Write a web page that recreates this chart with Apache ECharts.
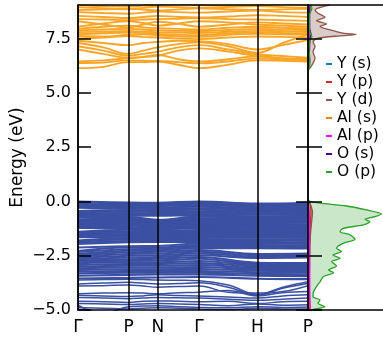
<!DOCTYPE html>
<html>
<head>
<meta charset="utf-8">
<script src="https://cdn.jsdelivr.net/npm/echarts@6/dist/echarts.min.js"></script>
<style>
  html, body { margin: 0; padding: 0; background: #fff; }
  #chart { width: 383px; height: 339px; }
</style>
</head>
<body>
<div id="chart"></div>
<script>
// k-path (BCC): Γ - P - N - Γ - H - P
const kTicks = [0, 0.866, 1.366, 2.073, 3.073, 3.939];
const kLabels = ['Γ', 'P', 'N', 'Γ', 'H', 'P'];
// high-symmetry points plus segment midpoints
const kFine = [0, 0.433, 0.866, 1.116, 1.366, 1.72, 2.073, 2.573, 3.073, 3.506, 3.939];
const energyTicks = [-5, -2.5, 0, 2.5, 5, 7.5];

// conduction bands, read at kFine
const conductionBands = [
  [6.14, 6.20, 6.42, 6.42, 6.45, 6.30, 6.14, 6.30, 6.50, 6.48, 6.45],
  [6.38, 6.40, 6.50, 6.48, 6.47, 6.42, 6.36, 6.45, 6.58, 6.53, 6.50],
  [6.45, 6.50, 6.60, 6.66, 6.75, 6.55, 6.45, 6.55, 6.68, 6.58, 6.55],
  [7.00, 6.80, 6.62, 6.65, 6.72, 6.95, 7.05, 6.90, 6.70, 6.60, 6.55],
  [7.15, 6.95, 6.72, 6.80, 6.90, 7.10, 7.20, 7.00, 6.78, 6.70, 6.62],
  [7.30, 7.10, 6.80, 6.95, 7.10, 7.25, 7.33, 7.15, 6.85, 7.30, 7.70],
  [7.40, 7.30, 7.20, 7.30, 7.35, 7.40, 7.38, 7.25, 7.00, 7.20, 7.45],
  [7.50, 7.55, 7.62, 7.58, 7.55, 7.50, 7.48, 7.55, 7.60, 7.58, 7.55],
  [7.62, 7.60, 7.68, 7.70, 7.65, 7.60, 7.58, 7.68, 7.72, 7.70, 7.68],
  [7.70, 7.75, 7.78, 7.75, 7.72, 7.68, 7.66, 7.75, 7.78, 7.76, 7.75],
  [7.80, 7.82, 7.85, 7.82, 7.80, 7.78, 7.76, 7.82, 7.86, 7.84, 7.82],
  [7.88, 7.92, 7.95, 7.92, 7.88, 7.86, 7.85, 7.90, 7.95, 7.92, 7.90],
  [7.95, 8.05, 8.10, 8.02, 7.98, 7.95, 7.92, 8.00, 8.05, 8.00, 7.98],
  [8.30, 8.15, 8.02, 8.15, 8.28, 8.18, 8.05, 8.15, 8.25, 8.20, 8.15],
  [8.05, 8.20, 8.30, 8.22, 8.10, 8.20, 8.30, 8.25, 8.15, 8.10, 8.05],
  [8.40, 8.38, 8.35, 8.38, 8.40, 8.42, 8.45, 8.40, 8.38, 8.35, 8.32],
  [8.55, 8.50, 8.45, 8.50, 8.55, 8.50, 8.48, 8.52, 8.58, 8.55, 8.50],
  [8.72, 8.68, 8.65, 8.70, 8.75, 8.72, 8.70, 8.75, 8.80, 8.72, 8.70],
  [8.82, 8.85, 8.88, 8.84, 8.80, 8.85, 8.90, 8.85, 8.82, 8.85, 8.88],
  [8.95, 8.90, 8.85, 8.92, 8.98, 8.95, 8.92, 8.96, 9.00, 8.95, 8.92],
  [9.05, 9.00, 8.98, 9.02, 9.08, 9.10, 9.05, 9.02, 9.05, 9.10, 9.05]
];

// dense valence bands, read at kTicks
const valenceBands = [
  [0.00, -0.05, -0.06, 0.00, -0.10, -0.06],
  [-0.05, -0.10, -0.12, -0.04, -0.14, -0.12],
  [-0.11, -0.16, -0.15, -0.10, -0.20, -0.18],
  [-0.17, -0.22, -0.21, -0.16, -0.25, -0.24],
  [-0.23, -0.27, -0.28, -0.24, -0.31, -0.30],
  [-0.29, -0.33, -0.35, -0.31, -0.37, -0.36],
  [-0.44, -0.40, -0.42, -0.38, -0.43, -0.42],
  [-0.50, -0.46, -0.49, -0.45, -0.49, -0.48],
  [-0.55, -0.53, -0.55, -0.52, -0.55, -0.54],
  [-0.60, -0.59, -0.61, -0.58, -0.61, -0.60],
  [-0.66, -0.66, -0.66, -0.64, -0.68, -0.66],
  [-0.72, -0.72, -0.84, -0.70, -0.74, -0.72],
  [-0.82, -0.80, -0.89, -0.78, -0.80, -0.79],
  [-0.88, -0.87, -0.94, -0.85, -0.86, -0.86],
  [-0.94, -0.93, -0.99, -0.92, -0.92, -0.92],
  [-1.00, -0.99, -1.04, -0.98, -0.98, -0.98],
  [-1.06, -1.05, -1.10, -1.04, -1.04, -1.05],
  [-1.12, -1.11, -1.16, -1.10, -1.10, -1.11],
  [-1.18, -1.18, -1.22, -1.16, -1.17, -1.18],
  [-1.22, -1.24, -1.28, -1.22, -1.24, -1.25],
  [-1.40, -1.30, -1.34, -1.32, -1.30, -1.31],
  [-1.45, -1.37, -1.40, -1.38, -1.36, -1.37],
  [-1.50, -1.44, -1.46, -1.44, -1.42, -1.43],
  [-1.55, -1.50, -1.52, -1.50, -1.48, -1.49],
  [-1.60, -1.56, -1.58, -1.56, -1.54, -1.55],
  [-1.65, -1.62, -1.64, -1.62, -1.60, -1.61],
  [-1.80, -1.68, -1.70, -1.68, -1.67, -1.68],
  [-1.85, -1.75, -1.76, -1.74, -1.74, -1.75],
  [-1.90, -1.82, -1.80, -1.80, -1.80, -1.82],
  [-1.96, -1.88, -1.86, -1.86, -1.87, -1.89],
  [-2.12, -2.06, -2.05, -1.94, -1.94, -1.96],
  [-2.28, -2.12, -2.12, -2.01, -2.01, -2.03],
  [-2.33, -2.20, -2.18, -2.08, -2.08, -2.10],
  [-2.42, -2.27, -2.25, -2.15, -2.15, -2.17],
  [-2.48, -2.34, -2.32, -2.24, -2.42, -2.40],
  [-2.54, -2.42, -2.40, -2.32, -2.48, -2.46],
  [-2.60, -2.50, -2.48, -2.40, -2.54, -2.52],
  [-2.66, -2.58, -2.56, -2.48, -2.60, -2.58],
  [-2.72, -2.66, -2.64, -2.56, -2.82, -2.84],
  [-2.78, -2.73, -2.72, -2.64, -2.88, -2.90],
  [-2.85, -2.80, -2.80, -2.74, -2.94, -2.96],
  [-2.92, -2.88, -2.88, -2.84, -3.00, -3.02],
  [-3.00, -2.96, -2.96, -2.93, -3.06, -3.07],
  [-3.08, -3.04, -3.04, -3.02, -3.12, -3.13],
  [-3.16, -3.12, -3.12, -3.11, -3.19, -3.20],
  [-3.24, -3.20, -3.20, -3.20, -3.26, -3.27],
  [-3.32, -3.28, -3.28, -3.28, -3.34, -3.35],
  [-3.42, -3.38, -3.36, -3.36, -3.42, -3.44],
  [-3.55, -3.52, -3.50, -3.48, -3.56, -3.58]
];

// lower valence bands, read at kFine
const lowerBands = [
  [-3.62, -3.60, -3.58, -3.60, -3.62, -3.63, -3.65, -3.85, -4.28, -3.95, -3.70],
  [-3.80, -3.76, -3.72, -3.76, -3.80, -3.78, -3.75, -3.95, -4.32, -4.00, -3.78],
  [-3.90, -3.88, -3.85, -3.90, -3.95, -3.92, -3.90, -4.18, -4.22, -4.15, -3.88],
  [-4.25, -4.22, -4.20, -4.22, -4.25, -4.20, -4.18, -4.10, -4.35, -4.20, -4.15],
  [-4.32, -4.35, -4.38, -4.35, -4.30, -4.33, -4.35, -4.40, -4.45, -4.35, -4.30],
  [-4.42, -4.45, -4.48, -4.45, -4.42, -4.44, -4.45, -4.50, -4.55, -4.50, -4.45],
  [-4.60, -4.62, -4.65, -4.60, -4.58, -4.60, -4.62, -4.60, -4.70, -4.62, -4.60],
  [-4.70, -4.72, -4.75, -4.72, -4.70, -4.72, -4.75, -4.80, -4.72, -4.78, -4.76],
  [-4.78, -5.15, -4.85, -4.82, -4.80, -4.85, -4.88, -4.90, -4.85, -4.88, -4.86],
  [-4.90, -4.92, -4.95, -4.92, -4.90, -4.92, -4.95, -4.98, -4.92, -4.95, -4.95]
];

// projected DOS
const dosNames = ['Y (s)', 'Y (p)', 'Y (d)', 'Al (s)', 'Al (p)', 'O (s)', 'O (p)'];
const dosColors = ['#1f77b4', '#d62728', '#8c564b', '#ff7f0e', '#ff00ff', '#4b0082', '#2ca02c'];

const opE = [9.05, 8.9, 8.6, 8.0, 7.7, 7.6, 7.5, 7.0, 6.5, 6.2, 6.0, 0.1, 0.0, -0.08, -0.21, -0.39, -0.58, -0.70, -0.82, -0.93, -1.08, -1.24, -1.39, -1.54, -1.74, -1.93, -2.16, -2.31, -2.47, -2.62, -2.77, -2.97, -3.16, -3.28, -3.46, -3.70, -3.92, -4.16, -4.39, -4.54, -4.69, -4.85, -4.97, -5.05];
const opDos = [0.5, 0.8, 0.3, 0.3, 0.5, 0.8, 0.5, 0.2, 0.4, 0.3, 0, 0, 0.4, 2.4, 7.7, 11.7, 14.7, 13.4, 11.4, 12.4, 11.1, 7.0, 6.4, 8.4, 9.4, 7.0, 5.7, 6.7, 5.0, 6.4, 4.7, 5.7, 4.1, 5.1, 3.1, 2.4, 1.7, 1.1, 1.0, 2.4, 2.0, 3.4, 1.0, 0.5];

const ydE = [9.05, 8.98, 8.82, 8.67, 8.49, 8.33, 8.18, 8.06, 7.90, 7.75, 7.69, 7.63, 7.52, 7.36, 7.13, 6.90, 6.60, 6.37, 6.14, 6.06, 0.1, 0.0, -0.2, -0.5, -1.0, -1.5, -2.0, -3.0, -4.0, -5.05];
const ydDos = [4.4, 3.0, 1.4, 2.0, 3.4, 1.7, 3.7, 2.4, 4.4, 7.0, 9.6, 6.4, 2.0, 1.0, 1.4, 1.0, 1.4, 1.0, 0.4, 0, 0, 0.2, 0.6, 0.9, 0.7, 0.5, 0.4, 0.3, 0.2, 0.2];

const minorE = [-5.05, -4.8, -4.5, -4.0, -3.0, -2.0, -1.0, -0.5, -0.1, 0.1, 6.0, 6.5, 7.0, 7.5, 7.7, 8.0, 8.5, 9.05];
const ysDos = [0.1, 0.1, 0.1, 0.1, 0.1, 0.1, 0.15, 0.1, 0.05, 0, 0, 0.1, 0.1, 0.15, 0.2, 0.1, 0.1, 0.1];
const ypDos = [0.15, 0.15, 0.2, 0.2, 0.2, 0.3, 0.5, 0.6, 0.4, 0, 0, 0.2, 0.2, 0.3, 0.4, 0.2, 0.2, 0.2];
const alsDos = [0.5, 0.3, 0.2, 0.15, 0.1, 0.1, 0.1, 0.1, 0.05, 0, 0, 0.15, 0.1, 0.1, 0.15, 0.1, 0.1, 0.1];
const alpDos = [0.4, 0.45, 0.4, 0.35, 0.35, 0.3, 0.3, 0.25, 0.1, 0, 0, 0.2, 0.25, 0.3, 0.4, 0.3, 0.3, 0.3];
const osDos = [0.1, 0.1, 0.1, 0.1, 0.05, 0.05, 0.05, 0.05, 0, 0, 0, 0.2, 0.3, 0.4, 0.6, 0.3, 0.3, 0.4];

const FONT = 'DejaVu Sans';
const E_MIN = -5, E_MAX = 9.05;
const K_MAX = kTicks[kTicks.length - 1];

const chart = echarts.init(document.getElementById('chart'), null, { renderer: 'canvas' });
const series = [];

function addBand(ks, es, color, width) {
  series.push({
    type: 'line', xAxisIndex: 0, yAxisIndex: 0,
    data: ks.map((k, i) => [k, es[i]]),
    showSymbol: false, smooth: 0.4, silent: true, z: 2,
    lineStyle: { color: color, width: width }
  });
}
conductionBands.forEach(b => addBand(kFine, b, '#f9a628', 1.9));
valenceBands.forEach(b => addBand(kTicks, b, '#3b50a2', 2.1));
lowerBands.forEach(b => addBand(kFine, b, '#3b50a2', 1.5));

// vertical lines at high-symmetry points
series.push({
  type: 'line', xAxisIndex: 0, yAxisIndex: 0, data: [], silent: true,
  markLine: {
    silent: true, symbol: ['none', 'none'], animation: false, z: 10,
    label: { show: false },
    lineStyle: { color: '#000', width: 1.5, type: 'solid' },
    data: kTicks.map(k => ({ xAxis: k }))
  }
});

function fillSeries(name, es, vals, color) {
  return {
    type: 'custom', name: name, xAxisIndex: 2, yAxisIndex: 2, silent: true, z: 1,
    data: [0],
    renderItem: function (params, api) {
      const pts = [api.coord([0, es[0]])];
      for (let i = 0; i < es.length; i++) pts.push(api.coord([vals[i], es[i]]));
      pts.push(api.coord([0, es[es.length - 1]]));
      return { type: 'polygon', shape: { points: pts }, style: { fill: color } };
    }
  };
}
series.push(fillSeries('Y (d) fill', ydE, ydDos, 'rgba(140,86,75,0.3)'));
series.push(fillSeries('O (p) fill', opE, opDos, 'rgba(44,160,44,0.25)'));

const dosData = [
  [minorE, ysDos], [minorE, ypDos], [ydE, ydDos], [minorE, alsDos],
  [minorE, alpDos], [minorE, osDos], [opE, opDos]
];
dosNames.forEach((name, j) => {
  const es = dosData[j][0], vals = dosData[j][1];
  series.push({
    type: 'line', name: name, xAxisIndex: 2, yAxisIndex: 2,
    data: es.map((e, i) => [vals[i], e]),
    showSymbol: false, smooth: 0.25, silent: true, z: 3 + j,
    itemStyle: { color: dosColors[j] },
    lineStyle: { color: dosColors[j], width: 1.3 }
  });
});

const fmtE = v => v.toFixed(1).replace('-', '\u2212');
const blackLine = { show: true, onZero: false, lineStyle: { color: '#000', width: 1.5 } };

const option = {
  animation: false,
  backgroundColor: '#fff',
  grid: [
    { left: 78, top: 5, width: 230, height: 305, containLabel: false, outerBoundsMode: 'none' },
    { left: 308, top: 5, width: 75, height: 305, containLabel: false, outerBoundsMode: 'none' }
  ],
  legend: {
    data: dosNames,
    orient: 'vertical',
    left: 321, top: 50,
    icon: 'rect', itemWidth: 6, itemHeight: 2, itemGap: 0,
    textStyle: { fontFamily: FONT, fontSize: 15.5, color: '#000', lineHeight: 18 },
    selectedMode: false
  },
  xAxis: [
    {
      type: 'value', gridIndex: 0, min: 0, max: K_MAX, z: 10,
      axisLine: blackLine, axisTick: { show: false }, splitLine: { show: false },
      axisLabel: {
        customValues: kTicks, margin: 9,
        fontFamily: FONT, fontSize: 17, color: '#000',
        formatter: v => kLabels[kTicks.findIndex(k => Math.abs(k - v) < 1e-6)] || ''
      }
    },
    {
      type: 'value', gridIndex: 0, min: 0, max: K_MAX, position: 'top', z: 10,
      axisLine: blackLine, axisTick: { show: false }, splitLine: { show: false }, axisLabel: { show: false }
    },
    {
      type: 'value', gridIndex: 1, min: 0, max: 15, z: 10,
      axisLine: blackLine, axisTick: { show: false }, splitLine: { show: false }, axisLabel: { show: false }
    },
    {
      type: 'value', gridIndex: 1, min: 0, max: 15, position: 'top', z: 10,
      axisLine: blackLine, axisTick: { show: false }, splitLine: { show: false }, axisLabel: { show: false }
    }
  ],
  yAxis: [
    {
      type: 'value', gridIndex: 0, min: E_MIN, max: E_MAX, z: 10,
      name: 'Energy (eV)', nameLocation: 'middle', nameGap: 52, nameMoveOverlap: false,
      nameTextStyle: { fontFamily: FONT, fontSize: 17, color: '#000' },
      axisLine: blackLine, splitLine: { show: false },
      axisTick: { customValues: energyTicks, inside: true, length: 13, lineStyle: { color: '#000', width: 1.5 } },
      axisLabel: { customValues: energyTicks, margin: 7, fontFamily: FONT, fontSize: 16, color: '#000', formatter: fmtE }
    },
    {
      type: 'value', gridIndex: 0, min: E_MIN, max: E_MAX, position: 'right', z: 10,
      axisLine: { show: false, onZero: false }, splitLine: { show: false }, axisLabel: { show: false },
      axisTick: { customValues: energyTicks, inside: true, length: 12, lineStyle: { color: '#000', width: 1.5 } }
    },
    {
      type: 'value', gridIndex: 1, min: E_MIN, max: E_MAX, z: 10,
      axisLine: { show: true, onZero: false, lineStyle: { color: '#111', width: 2 } },
      splitLine: { show: false }, axisLabel: { show: false },
      axisTick: { customValues: energyTicks, inside: true, length: 14, lineStyle: { color: '#000', width: 1.5 } }
    }
  ],
  series: series
};

chart.setOption(option);
</script>
</body>
</html>
